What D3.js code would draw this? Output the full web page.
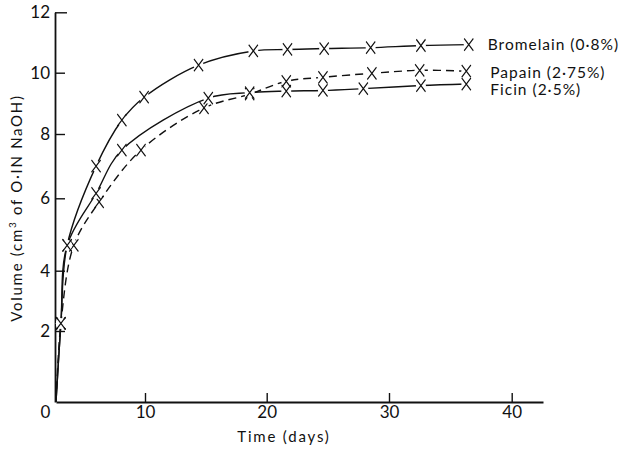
<!DOCTYPE html>
<html>
<head>
<meta charset="utf-8">
<script src="https://cdn.jsdelivr.net/npm/d3@7/dist/d3.min.js"></script>
<style>
  html, body { margin: 0; padding: 0; background: #fff; }
  svg { display: block; }
  text { font-family: Lato, "DejaVu Sans", sans-serif; fill: #111; }
</style>
</head>
<body>
<svg id="chart" width="633" height="449"></svg>
<script>
// Proteolytic activity: alkali consumed over storage time
const seriesNames = ["Bromelain (0·8%)", "Papain (2·75%)", "Ficin (2·5%)"];

const bromelainDays = [0, 0.55, 1.25, 4.5, 7.4, 9.9, 14.4, 18.9, 21.7, 24.7, 28.5, 32.6, 36.5];
const bromelainVol  = [0, 2.25, 4.7, 7.0, 8.45, 9.2, 10.25, 10.72, 10.77, 10.8, 10.83, 10.9, 10.93];

const papainDays = [0, 0.55, 2.0, 4.85, 9.55, 14.85, 18.6, 21.6, 24.6, 28.6, 32.5, 36.3];
const papainVol  = [0, 2.25, 4.7, 5.9, 7.5, 8.85, 9.3, 9.72, 9.85, 9.98, 10.08, 10.05];

const ficinDays = [0, 0.55, 1.25, 4.5, 7.4, 15.2, 18.6, 21.6, 24.6, 27.9, 32.6, 36.3];
const ficinVol  = [0, 2.25, 4.7, 6.15, 7.5, 9.17, 9.35, 9.4, 9.42, 9.48, 9.58, 9.63];

const xTicks = [0, 10, 20, 30, 40];
const yTicks = [2, 4, 6, 8, 10, 12];

const series = [
  { name: seriesNames[0], days: bromelainDays, vol: bromelainVol },
  { name: seriesNames[1], days: papainDays, vol: papainVol },
  { name: seriesNames[2], days: ficinDays, vol: ficinVol }
];

// line style and label nudge per curve
const styles = [
  { dash: null, labelDx: 19, labelDy: 0 },
  { dash: "8,5", labelDx: 24, labelDy: 1 },
  { dash: null, labelDx: 24, labelDy: 6 }
];

const svg = d3.select("#chart");

// hand-ruled axes: piecewise linear scales through the tick marks
const x = d3.scaleLinear()
  .domain([0, 10, 20, 30, 40, 42.6])
  .range([56, 145, 266.7, 389, 511.7, 543]);
const y = d3.scaleLinear()
  .domain([0, 2, 4, 6, 8, 10, 12])
  .range([402, 331, 270.7, 198.3, 134, 72.7, 12.3]);

// axes
const xAxis = svg.append("g")
  .attr("transform", `translate(0,${y(0)})`)
  .call(d3.axisBottom(x).tickValues(xTicks).tickSizeInner(-9).tickSizeOuter(0).tickPadding(4));
const yAxis = svg.append("g")
  .attr("transform", `translate(${x(0) - 1},0)`)
  .call(d3.axisLeft(y).tickValues(yTicks).tickSizeInner(-10).tickSizeOuter(0).tickPadding(5));

[xAxis, yAxis].forEach(g => {
  g.select(".domain").attr("stroke", "#111").attr("stroke-width", 1.8);
  g.selectAll(".tick line").attr("stroke", "#111").attr("stroke-width", 1.4);
  g.selectAll(".tick text").attr("font-size", 17).attr("fill", "#111")
    .style("font-family", "Lato, 'DejaVu Sans', sans-serif");
});
xAxis.selectAll(".tick").filter(d => d === 0).select("line").remove();
xAxis.selectAll(".tick").filter(d => d === 0).select("text").attr("x", -11);
yAxis.selectAll(".tick").filter(d => d === 12).select("line").attr("x2", 12);

// axis titles
svg.append("text")
  .attr("x", 284).attr("y", 442)
  .attr("text-anchor", "middle")
  .attr("font-size", 15)
  .attr("letter-spacing", 1.8)
  .text("Time (days)");

const yTitle = svg.append("text")
  .attr("transform", "translate(22,208) rotate(-90)")
  .attr("text-anchor", "middle")
  .attr("font-size", 15)
  .attr("letter-spacing", 1.7);
yTitle.append("tspan").text("Volume (cm");
yTitle.append("tspan").attr("font-size", 10).attr("dy", -6).text("3");
yTitle.append("tspan").attr("dy", 6).text(" of O·IN NaOH)");

// curves
const line = d3.line()
  .x(d => x(d[0]))
  .y(d => y(d[1]))
  .curve(d3.curveCatmullRom.alpha(0.5));

const cross = d3.symbol().type(d3.symbolTimes).size(70);

series.forEach((s, i) => {
  const pts = s.days.map((d, j) => [d, s.vol[j]]);
  const st = styles[i];
  const g = svg.append("g");

  g.append("path")
    .attr("d", line(pts))
    .attr("fill", "none")
    .attr("stroke", "#111")
    .attr("stroke-width", 1.4)
    .attr("stroke-dasharray", st.dash);

  const marks = pts.slice(1);
  // small white clearing so the curve stops short of each cross
  g.selectAll("ellipse").data(marks).join("ellipse")
    .attr("cx", d => x(d[0])).attr("cy", d => y(d[1]))
    .attr("rx", 5).attr("ry", 5.5)
    .attr("fill", "#fff");
  g.selectAll(".cross").data(marks).join("path")
    .attr("class", "cross")
    .attr("transform", d => `translate(${x(d[0])},${y(d[1])}) scale(0.9,1.2)`)
    .attr("d", cross)
    .attr("fill", "none")
    .attr("stroke", "#111")
    .attr("stroke-width", 1.2);

  const last = pts[pts.length - 1];
  svg.append("text")
    .attr("x", x(last[0]) + st.labelDx)
    .attr("y", y(last[1]) + st.labelDy)
    .attr("dy", "0.35em")
    .attr("font-size", 15.5)
    .attr("letter-spacing", 1)
    .text(s.name);
});
</script>
</body>
</html>
